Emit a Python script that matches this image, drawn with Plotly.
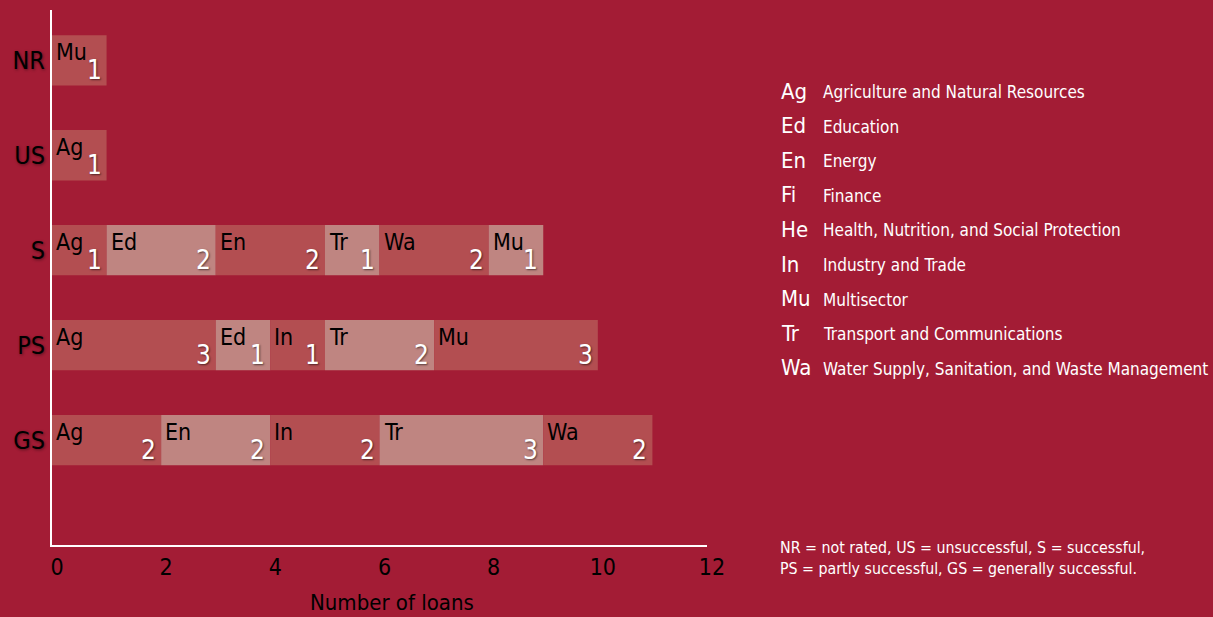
import plotly.graph_objects as go

# ---------------- data ----------------
ratings = ["GS", "PS", "S", "US", "NR"]          # bottom -> top

gs_sectors = ["Ag", "En", "In", "Tr", "Wa"]
gs_counts = [2, 2, 2, 3, 2]
ps_sectors = ["Ag", "Ed", "In", "Tr", "Mu"]
ps_counts = [3, 1, 1, 2, 3]
s_sectors = ["Ag", "Ed", "En", "Tr", "Wa", "Mu"]
s_counts = [1, 2, 2, 1, 2, 1]
us_sectors = ["Ag"]
us_counts = [1]
nr_sectors = ["Mu"]
nr_counts = [1]

legend_codes = ["Ag", "Ed", "En", "Fi", "He", "In", "Mu", "Tr", "Wa"]
legend_names = ["Agriculture and Natural Resources", "Education", "Energy", "Finance",
                "Health, Nutrition, and Social Protection", "Industry and Trade",
                "Multisector", "Transport and Communications",
                "Water Supply, Sanitation, and Waste Management"]

x_ticks = [0, 2, 4, 6, 8, 10, 12]
x_title = "Number of loans"
footnote = ["NR = not rated, US = unsuccessful, S = successful,",
            "PS = partly successful, GS = generally successful."]

# ---------------- style ----------------
BG = "#A31C35"
DARK = "#B34E51"
LIGHT = "#BF8581"
FONT = "Liberation Sans Narrow, Arial Narrow, DejaVu Sans Condensed, sans-serif"
BAR_W = 0.53
SHADOW_DARK = "1px 1px 3px rgba(0,0,0,0.45)"
SHADOW_NUM = "1px 1px 2px rgba(0,0,0,0.55)"

rows = {
    "GS": (gs_sectors, gs_counts),
    "PS": (ps_sectors, ps_counts),
    "S": (s_sectors, s_counts),
    "US": (us_sectors, us_counts),
    "NR": (nr_sectors, nr_counts),
}

fig = go.Figure()
annotations = []
max_len = max(len(v[0]) for v in rows.values())

for j in range(max_len):
    ys, xs, bases = [], [], []
    for r in ratings:
        secs, cnts = rows[r]
        if j < len(cnts):
            ys.append(r)
            xs.append(cnts[j])
            bases.append(sum(cnts[:j]))
    fig.add_trace(go.Bar(
        y=ys, x=xs, base=bases, orientation="h", width=BAR_W,
        marker=dict(color=DARK if j % 2 == 0 else LIGHT, line=dict(width=0)),
        hoverinfo="skip", showlegend=False,
    ))

for idx, r in enumerate(ratings):
    secs, cnts = rows[r]
    start = 0
    for s, c in zip(secs, cnts):
        annotations.append(dict(
            x=start, y=idx + BAR_W / 2, xref="x", yref="y", text=s, showarrow=False,
            xanchor="left", yanchor="top", xshift=2, yshift=-2,
            font=dict(family=FONT, size=23, color="black"),
        ))
        annotations.append(dict(
            x=start + c, y=idx - BAR_W / 2, xref="x", yref="y", text=str(c), showarrow=False,
            xanchor="right", yanchor="bottom", xshift=-3, yshift=-2,
            font=dict(family=FONT, size=26, color="white", shadow=SHADOW_NUM),
        ))
        start += c

# legend (right side)
plot_l, plot_r, plot_t, plot_b = 52, 707, 10, 545
pw, ph = plot_r - plot_l, plot_b - plot_t
def px_x(px):
    return (px - plot_l) / pw
def px_y(py):
    return (plot_b - py) / ph

for k, (code, name) in enumerate(zip(legend_codes, legend_names)):
    yy = 91 + k * 34.6
    annotations.append(dict(
        x=px_x(779), y=px_y(yy), xref="paper", yref="paper", text=code, showarrow=False,
        xanchor="left", yanchor="middle",
        font=dict(family=FONT, size=22, color="white"),
    ))
    annotations.append(dict(
        x=px_x(821), y=px_y(yy + 1), xref="paper", yref="paper", text=name, showarrow=False,
        xanchor="left", yanchor="middle",
        font=dict(family=FONT, size=17, color="white"),
    ))

annotations.append(dict(
    x=px_x(778), y=px_y(558), xref="paper", yref="paper",
    text="<br>".join(footnote), showarrow=False, align="left",
    xanchor="left", yanchor="middle",
    font=dict(family=FONT, size=15.8, color="white"),
))

annotations.append(dict(
    x=px_x(392), y=px_y(602), xref="paper", yref="paper", text=x_title, showarrow=False,
    xanchor="center", yanchor="middle",
    font=dict(family=FONT, size=22, color="black"),
))

fig.update_layout(
    width=1213, height=617,
    paper_bgcolor=BG, plot_bgcolor=BG,
    margin=dict(l=plot_l, r=1213 - plot_r, t=plot_t, b=617 - plot_b, autoexpand=False),
    barmode="overlay",
    annotations=annotations,
    font=dict(family=FONT),
)
fig.update_xaxes(
    range=[0, 12], tickvals=x_ticks, ticktext=[str(t) for t in x_ticks],
    showgrid=False, zeroline=False, showline=True, linecolor="white", linewidth=2,
    ticks="", tickfont=dict(family=FONT, size=23, color="black"), ticklabelshift=5,
    fixedrange=True,
)
fig.update_yaxes(
    range=[-1.105, 4.53], categoryorder="array", categoryarray=ratings,
    showgrid=False, zeroline=False, showline=True, linecolor="white", linewidth=2,
    ticks="", tickfont=dict(family=FONT, size=25, color="black", shadow=SHADOW_DARK),
    fixedrange=True,
)

fig.write_html(
    "out.html",
    config={"displayModeBar": False},
    post_script="document.body.style.margin='0';document.body.style.background='" + BG + "';",
)
